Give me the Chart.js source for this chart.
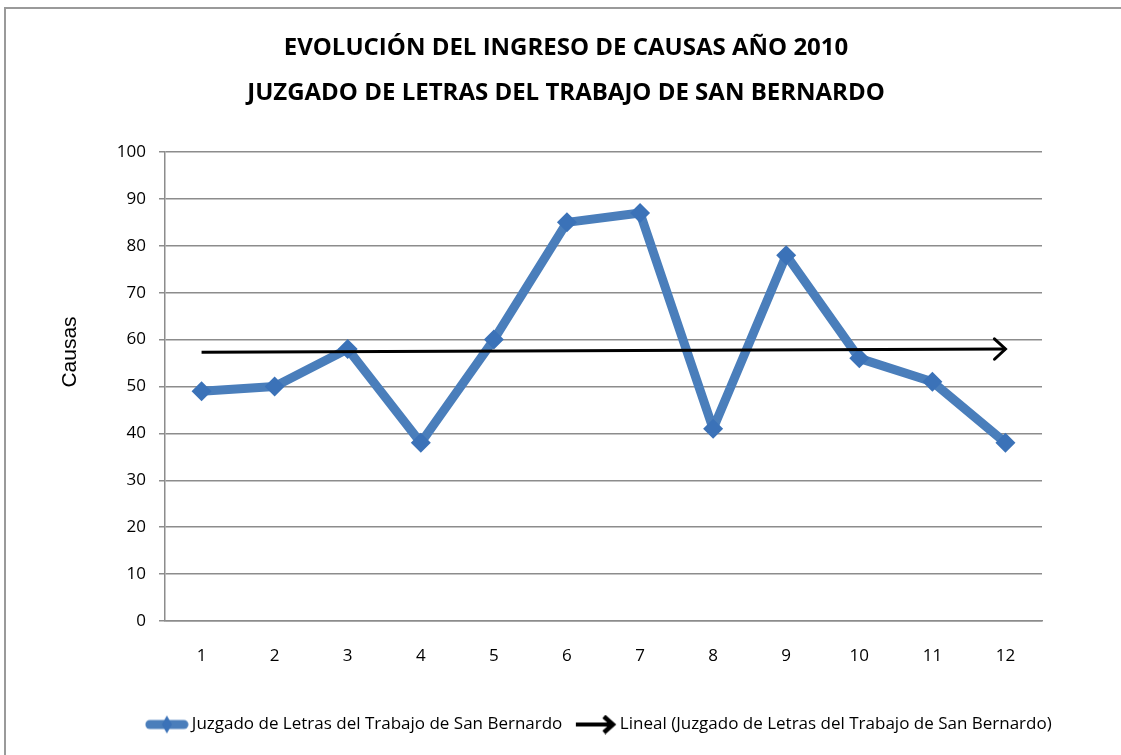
<!DOCTYPE html>
<html>
<head>
<meta charset="utf-8">
<script src="https://cdn.jsdelivr.net/npm/chart.js@4.4.1/dist/chart.umd.min.js"></script>
<style>
  html, body { margin: 0; padding: 0; background: #fff; }
  #wrap { width: 1121px; height: 755px; }
</style>
</head>
<body>
<div id="wrap"><canvas id="grafico" width="1121" height="755"></canvas></div>
<script>
// Ingreso de causas por mes - año 2010
const meses = ['1', '2', '3', '4', '5', '6', '7', '8', '9', '10', '11', '12'];
const causas = [49, 50, 58, 38, 60, 85, 87, 41, 78, 56, 51, 38];
// Línea de tendencia (extremos)
const tendencia = [57.3, null, null, null, null, null, null, null, null, null, null, 58.0];
const tituloLineas = ['EVOLUCIÓN DEL INGRESO DE CAUSAS AÑO 2010', 'JUZGADO DE LETRAS DEL TRABAJO DE SAN BERNARDO'];
const tituloEje = 'Causas';
const nombreSerie = 'Juzgado de Letras del Trabajo de San Bernardo';
const nombreTendencia = 'Lineal (Juzgado de Letras del Trabajo de San Bernardo)';

const AZUL = '#4A7EBB';
const AZUL_PUNTO = '#3B72B8';
const GRIS = '#8c8c8c';
const FUENTE = '"Open Sans", "Liberation Sans", sans-serif';

// iconos de la leyenda
function iconoSerie() {
    const c = document.createElement('canvas');
    c.width = 44; c.height = 20;
    const g = c.getContext('2d');
    g.strokeStyle = AZUL; g.lineWidth = 9; g.lineCap = 'round';
    g.beginPath(); g.moveTo(5, 10); g.lineTo(39, 10); g.stroke();
    g.fillStyle = AZUL_PUNTO;
    g.beginPath(); g.moveTo(22, 1); g.lineTo(27, 10); g.lineTo(22, 19); g.lineTo(17, 10); g.closePath(); g.fill();
    return c;
}
function iconoFlecha() {
    const c = document.createElement('canvas');
    c.width = 44; c.height = 20;
    const g = c.getContext('2d');
    g.strokeStyle = '#000'; g.lineWidth = 4;
    g.beginPath(); g.moveTo(3, 10); g.lineTo(38, 10); g.stroke();
    g.lineWidth = 4.5; g.lineJoin = 'miter';
    g.beginPath(); g.moveTo(31, 2); g.lineTo(40, 10); g.lineTo(31, 18); g.stroke();
    return c;
}
const iconos = [iconoSerie(), iconoFlecha()];

// marco exterior, fondo y título del eje
const marco = {
    id: 'marco',
    afterLayout(chart) {
        // el título y la leyenda del original no están centrados en el lienzo
        if (chart.titleBlock) { chart.titleBlock.left += 40; chart.titleBlock.right += 40; }
        if (chart.legend) { chart.legend.left += 75; chart.legend.right += 75; }
    },
    beforeDraw(chart) {
        const ctx = chart.ctx;
        ctx.save();
        ctx.fillStyle = '#fff';
        ctx.fillRect(0, 0, chart.width, chart.height);
        ctx.strokeStyle = '#9a9a9a';
        ctx.lineWidth = 2;
        ctx.beginPath();
        ctx.moveTo(5, chart.height);
        ctx.lineTo(5, 8);
        ctx.lineTo(chart.width, 8);
        ctx.stroke();
        // título vertical "Causas"
        ctx.translate(70, 352);
        ctx.rotate(-Math.PI / 2);
        ctx.fillStyle = '#000';
        ctx.font = '21px "Liberation Sans", Arial, sans-serif';
        ctx.textAlign = 'center';
        ctx.textBaseline = 'middle';
        ctx.fillText(tituloEje, 0, 0);
        ctx.restore();
    }
};

// punta de flecha al final de la tendencia
const flecha = {
    id: 'flecha',
    afterDatasetsDraw(chart) {
        const meta = chart.getDatasetMeta(1);
        const pts = meta.data;
        const a = pts[0], b = pts[pts.length - 1];
        if (!a || !b) return;
        const ang = Math.atan2(b.y - a.y, b.x - a.x);
        const L = 15, abre = Math.PI / 4.2;
        const ctx = chart.ctx;
        ctx.save();
        ctx.strokeStyle = '#000';
        ctx.lineWidth = 3;
        ctx.lineCap = 'round';
        ctx.beginPath();
        ctx.moveTo(b.x - L * Math.cos(ang - abre), b.y - L * Math.sin(ang - abre));
        ctx.lineTo(b.x, b.y);
        ctx.lineTo(b.x - L * Math.cos(ang + abre), b.y - L * Math.sin(ang + abre));
        ctx.stroke();
        ctx.restore();
    }
};

new Chart(document.getElementById('grafico'), {
    type: 'line',
    data: {
        labels: meses,
        datasets: [
            {
                label: nombreSerie,
                data: causas,
                borderColor: AZUL,
                borderWidth: 9,
                borderJoinStyle: 'round',
                tension: 0,
                pointStyle: 'rectRot',
                pointRadius: 10,
                pointHoverRadius: 10,
                pointBackgroundColor: AZUL_PUNTO,
                pointBorderWidth: 0,
                order: 1
            },
            {
                label: nombreTendencia,
                data: tendencia,
                borderColor: '#000',
                borderWidth: 3,
                pointRadius: 0,
                spanGaps: true,
                tension: 0,
                order: 0
            }
        ]
    },
    options: {
        responsive: false,
        animation: false,
        devicePixelRatio: 1,
        layout: { padding: { left: 10, right: 79, top: 16, bottom: 12 } },
        plugins: {
            tooltip: { enabled: false },
            title: {
                display: true,
                text: tituloLineas,
                color: '#000',
                font: { family: FUENTE, size: 24, weight: 'bold', lineHeight: 1.875 },
                padding: { top: 10, bottom: 36 }
            },
            legend: {
                position: 'bottom',
                labels: {
                    color: '#000',
                    font: { family: FUENTE, size: 17 },
                    usePointStyle: true,
                    pointStyleWidth: 33,
                    boxHeight: 17,
                    padding: 16,
                    sort: (x, y) => x.datasetIndex - y.datasetIndex,
                    generateLabels(chart) {
                        const items = Chart.defaults.plugins.legend.labels.generateLabels(chart);
                        items.forEach(it => { it.pointStyle = iconos[it.datasetIndex]; });
                        return items;
                    }
                }
            }
        },
        scales: {
            x: {
                offset: true,
                grid: { display: false, drawTicks: false, offset: true },
                border: { display: true, color: GRIS, width: 1.5 },
                ticks: { color: '#000', font: { family: FUENTE, size: 17 }, padding: 25 },
                afterFit(s) { s.height = 79; }
            },
            y: {
                min: 0,
                max: 100,
                ticks: { stepSize: 10, color: '#000', font: { family: FUENTE, size: 17 }, padding: 13 },
                grid: { color: GRIS, lineWidth: 1.5, tickLength: 6 },
                border: { display: true, color: GRIS, width: 1.5 },
                afterFit(s) { s.width = 155; }
            }
        }
    },
    plugins: [marco, flecha]
});
</script>
</body>
</html>
